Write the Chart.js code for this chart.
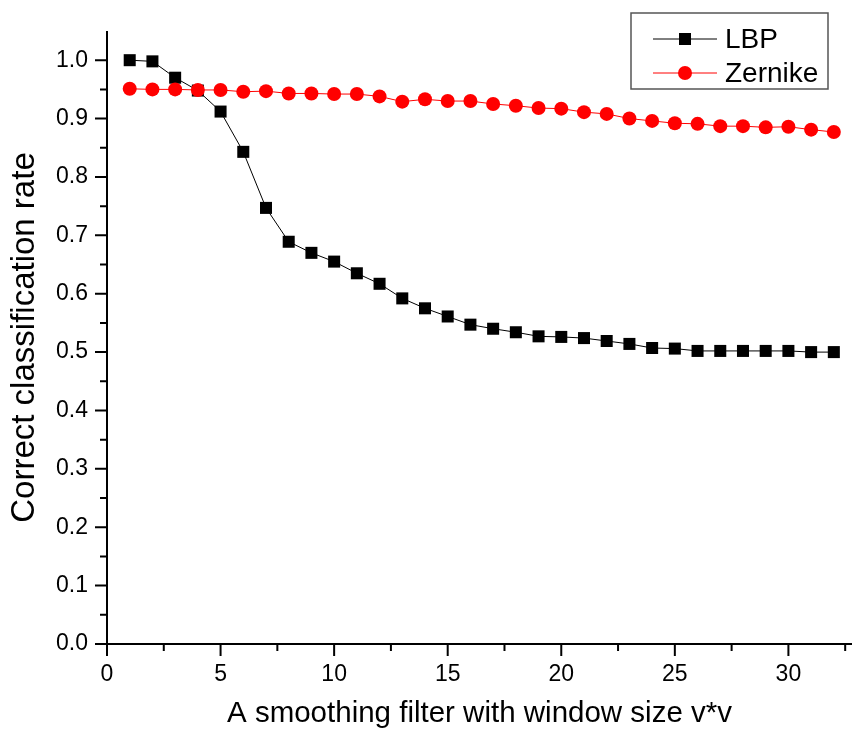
<!DOCTYPE html>
<html>
<head>
<meta charset="utf-8">
<script src="https://cdn.jsdelivr.net/npm/chart.js@4.4.1/dist/chart.umd.min.js"></script>
<style>
  html, body { margin: 0; padding: 0; background: #fff; overflow: hidden; }
  #wrap { width: 853px; height: 732px; }
</style>
</head>
<body>
<div id="wrap"><canvas id="graph"></canvas></div>
<script>
// window size v (filter is v*v)
const windowSizes = [1, 2, 3, 4, 5, 6, 7, 8, 9, 10, 11, 12, 13, 14, 15, 16,
  17, 18, 19, 20, 21, 22, 23, 24, 25, 26, 27, 28, 29, 30, 31, 32];

const lbpRates = [1.000, 0.998, 0.970, 0.948, 0.912, 0.843, 0.747, 0.689,
  0.670, 0.655, 0.635, 0.617, 0.592, 0.575, 0.561, 0.547, 0.540, 0.534,
  0.527, 0.526, 0.524, 0.519, 0.514, 0.507, 0.506, 0.502, 0.502, 0.502,
  0.502, 0.502, 0.500, 0.500];

const zernikeRates = [0.951, 0.950, 0.950, 0.949, 0.949, 0.946, 0.947, 0.943,
  0.943, 0.942, 0.942, 0.938, 0.929, 0.933, 0.930, 0.930, 0.925, 0.922,
  0.918, 0.917, 0.911, 0.908, 0.900, 0.896, 0.892, 0.891, 0.887, 0.887,
  0.885, 0.886, 0.881, 0.877];

const xTickValues = [0, 5, 10, 15, 20, 25, 30];
const xMinorValues = [2.5, 7.5, 12.5, 17.5, 22.5, 27.5, 32.5];
const yTickValues = [0, 0.1, 0.2, 0.3, 0.4, 0.5, 0.6, 0.7, 0.8, 0.9, 1.0];
const yMinorValues = [0.05, 0.15, 0.25, 0.35, 0.45, 0.55, 0.65, 0.75, 0.85, 0.95];

const FONT = "'Liberation Sans', Arial, sans-serif";

// axis lines + major/minor ticks, Origin style
const axesPlugin = {
  id: "originAxes",
  afterDatasetsDraw(chart) {
    const ctx = chart.ctx;
    const xs = chart.scales.x;
    const ys = chart.scales.y;
    const left = chart.chartArea.left;
    const bottom = chart.chartArea.bottom;
    ctx.save();
    ctx.strokeStyle = "#000";
    ctx.lineWidth = 2;
    ctx.beginPath();
    // y axis line
    ctx.moveTo(left, chart.chartArea.top);
    ctx.lineTo(left, bottom);
    // x axis line
    ctx.moveTo(left, bottom);
    ctx.lineTo(chart.chartArea.right, bottom);
    xTickValues.forEach((v) => {
      const px = xs.getPixelForValue(v);
      ctx.moveTo(px, bottom);
      ctx.lineTo(px, bottom + 12);
    });
    xMinorValues.forEach((v) => {
      const px = xs.getPixelForValue(v);
      ctx.moveTo(px, bottom);
      ctx.lineTo(px, bottom + 7);
    });
    yTickValues.forEach((v) => {
      const py = ys.getPixelForValue(v);
      ctx.moveTo(left, py);
      ctx.lineTo(left - 12, py);
    });
    yMinorValues.forEach((v) => {
      const py = ys.getPixelForValue(v);
      ctx.moveTo(left, py);
      ctx.lineTo(left - 7, py);
    });
    ctx.stroke();
    ctx.restore();
  },
};

// boxed legend in the top right corner
const legendPlugin = {
  id: "boxLegend",
  afterDraw(chart) {
    const ctx = chart.ctx;
    const box = { x: 631, y: 13, w: 197, h: 76 };
    ctx.save();
    ctx.fillStyle = "#fff";
    ctx.fillRect(box.x, box.y, box.w, box.h);
    ctx.strokeStyle = "#555";
    ctx.lineWidth = 1.5;
    ctx.strokeRect(box.x, box.y, box.w, box.h);

    const order = [0, 1];
    order.forEach((i, row) => {
      const ds = chart.data.datasets[i];
      const cy = box.y + 26 + row * 34;
      ctx.strokeStyle = ds.borderColor;
      ctx.lineWidth = 1;
      ctx.beginPath();
      ctx.moveTo(653, cy);
      ctx.lineTo(717, cy);
      ctx.stroke();
      ctx.fillStyle = ds.pointBackgroundColor;
      if (ds.pointStyle === "rect") {
        ctx.fillRect(685 - 6, cy - 6, 12, 12);
      } else {
        ctx.beginPath();
        ctx.arc(685, cy, 7, 0, Math.PI * 2);
        ctx.fill();
      }
      ctx.fillStyle = "#000";
      ctx.font = "28px " + FONT;
      ctx.textBaseline = "middle";
      ctx.textAlign = "left";
      ctx.fillText(ds.label, 725, cy + 1);
    });
    ctx.restore();
  },
};

const ctx = document.getElementById("graph").getContext("2d");
new Chart(ctx, {
  type: "line",
  data: {
    labels: windowSizes,
    datasets: [
      {
        label: "LBP",
        data: windowSizes.map((v, i) => ({ x: v, y: lbpRates[i] })),
        borderColor: "#000",
        borderWidth: 1,
        pointStyle: "rect",
        pointRadius: 8.5,
        pointBackgroundColor: "#000",
        pointBorderColor: "#000",
        pointBorderWidth: 0,
        tension: 0,
        order: 2,
      },
      {
        label: "Zernike",
        data: windowSizes.map((v, i) => ({ x: v, y: zernikeRates[i] })),
        borderColor: "#ff0000",
        borderWidth: 1,
        pointStyle: "circle",
        pointRadius: 7,
        pointBackgroundColor: "#ff0000",
        pointBorderColor: "#ff0000",
        pointBorderWidth: 0,
        tension: 0,
        order: 1,
      },
    ],
  },
  options: {
    responsive: true,
    maintainAspectRatio: false,
    animation: false,
    layout: {
      autoPadding: false, // point radius would shrink the plot area otherwise
      padding: { top: 31, right: 1, left: 0, bottom: 0 },
    },
    plugins: {
      legend: { display: false },
      tooltip: { enabled: false },
    },
    scales: {
      x: {
        type: "linear",
        min: 0,
        max: 32.8,
        afterFit: (scale) => {
          scale.height = 88;
          scale.paddingLeft = 0;
          scale.paddingRight = 0;
        },
        afterBuildTicks: (scale) => {
          scale.ticks = xTickValues.map((v) => ({ value: v }));
        },
        grid: { display: false, drawTicks: false },
        border: { display: false },
        ticks: {
          color: "#000",
          padding: 17,
          maxRotation: 0,
          font: { family: FONT, size: 23 },
        },
        title: {
          display: true,
          text: "A smoothing filter with window size v*v",
          color: "#000",
          padding: { top: 0, bottom: 0 },
          font: { family: FONT, size: 29.5, lineHeight: 1.2 },
        },
      },
      y: {
        type: "linear",
        min: 0,
        max: 1.05,
        afterFit: (scale) => {
          scale.width = 107;
          scale.paddingTop = 0;
          scale.paddingBottom = 0;
        },
        afterBuildTicks: (scale) => {
          scale.ticks = yTickValues.map((v) => ({ value: v }));
        },
        grid: { display: false, drawTicks: false },
        border: { display: false },
        ticks: {
          color: "#000",
          padding: 19,
          font: { family: FONT, size: 23 },
          callback: (v) => v.toFixed(1),
        },
        title: {
          display: true,
          text: "Correct classification rate",
          color: "#000",
          padding: { top: 5, bottom: 0 },
          font: { family: FONT, size: 33, lineHeight: 1.2 },
        },
      },
    },
  },
  plugins: [axesPlugin, legendPlugin],
});
</script>
</body>
</html>
